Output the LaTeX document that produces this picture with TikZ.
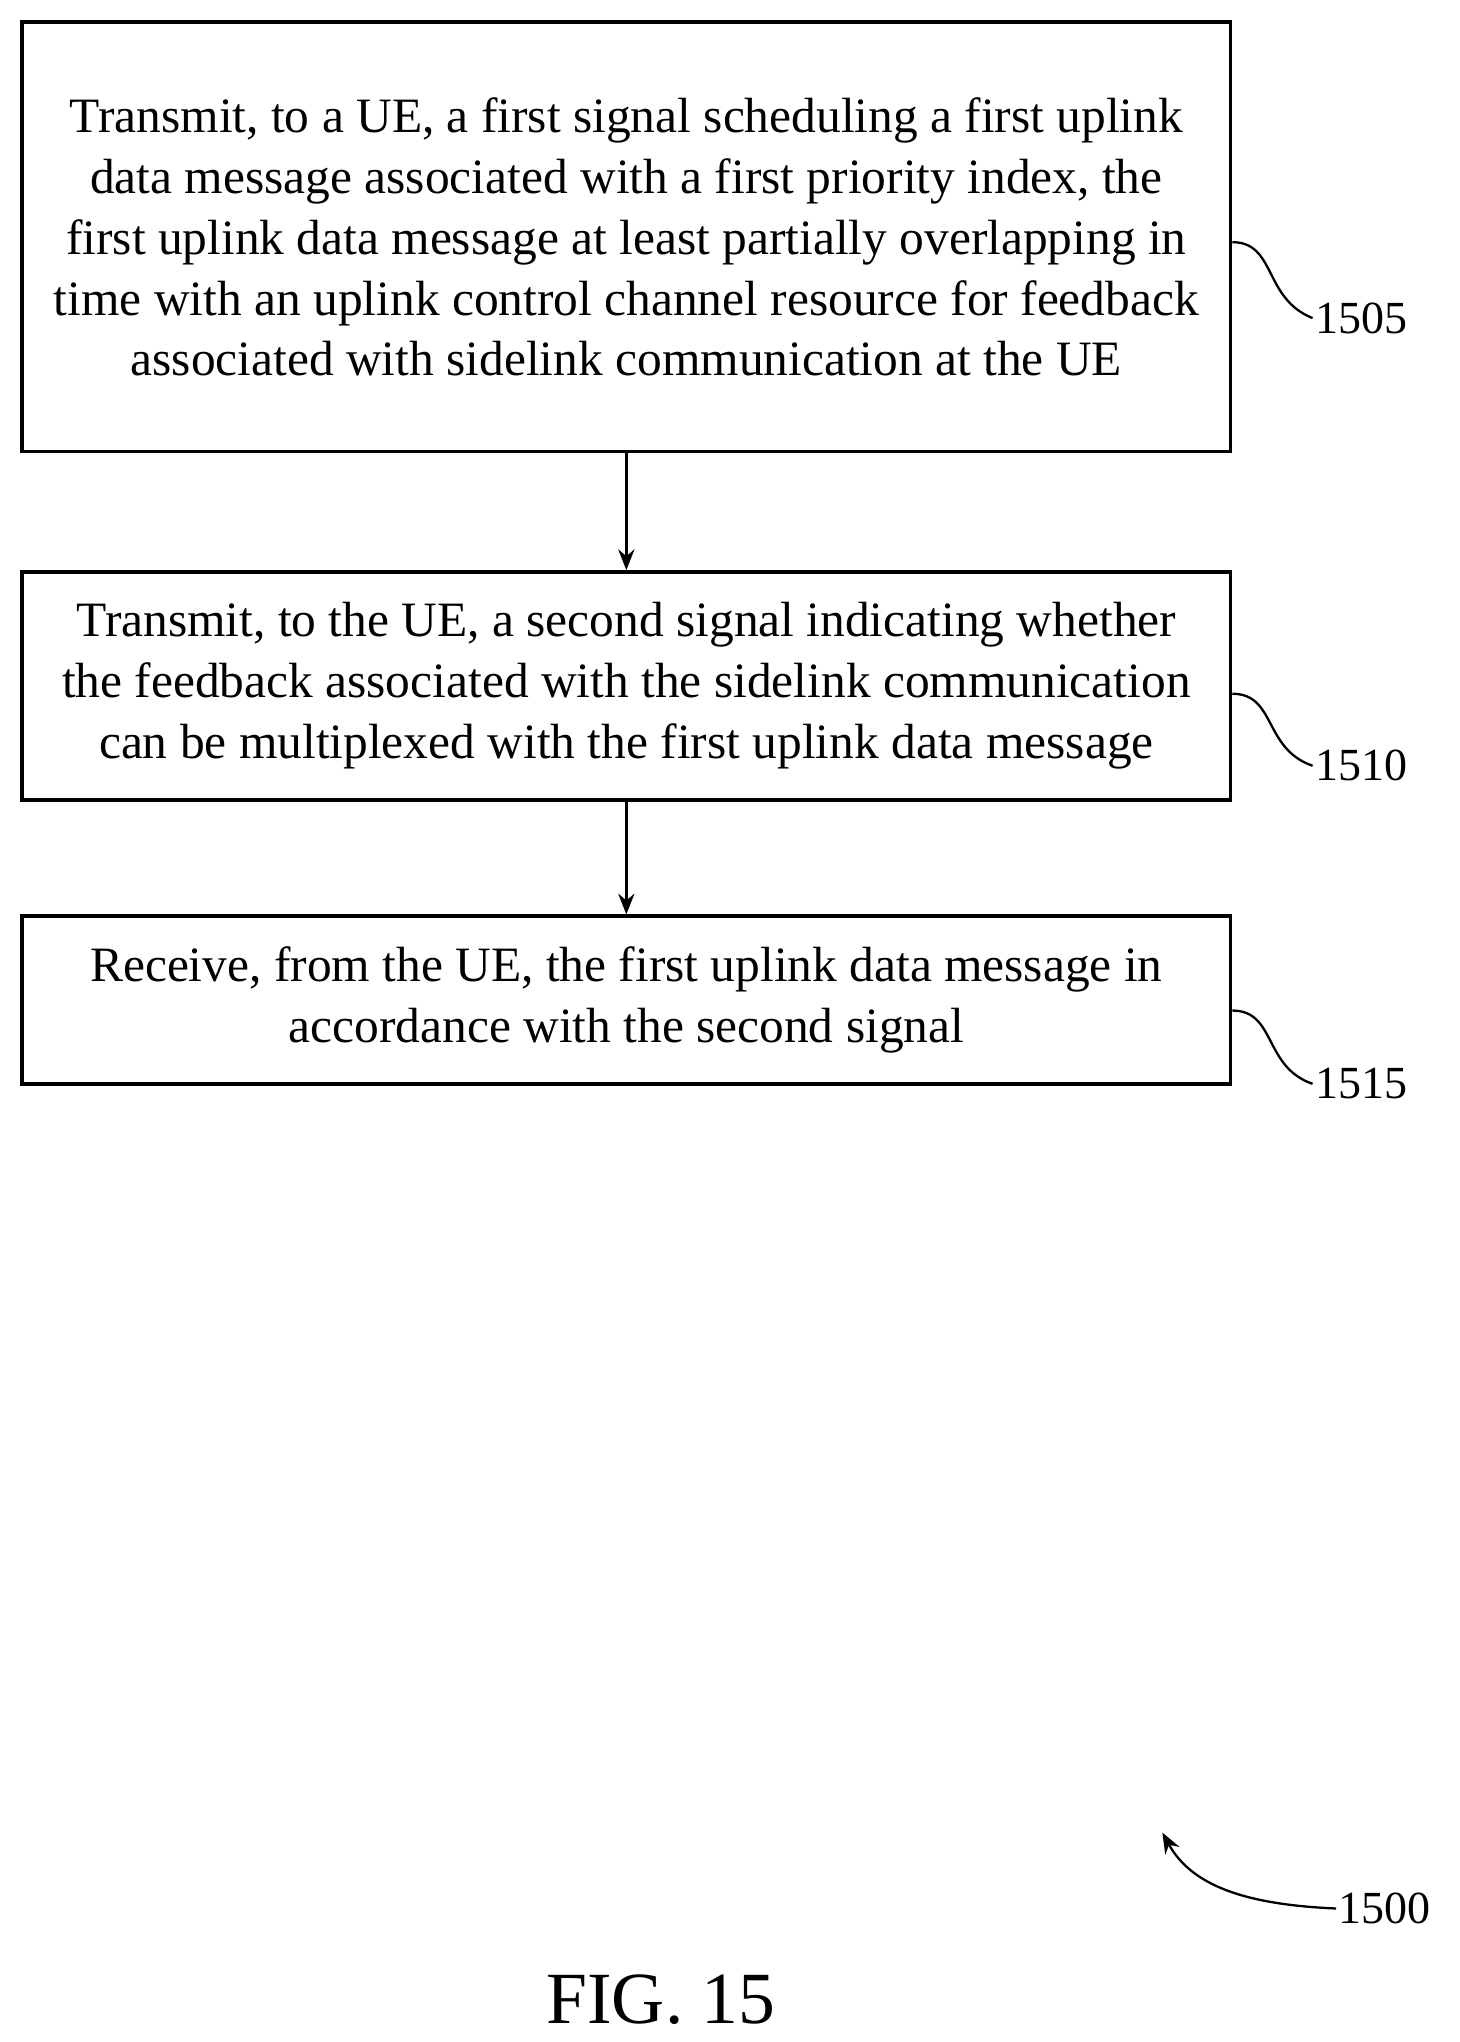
\documentclass[tikz,border=0pt]{standalone}
\usepackage{fontspec}
\setmainfont{Liberation Serif}
\usetikzlibrary{positioning,arrows.meta}
\begin{document}
\begin{tikzpicture}[x=0.02cm, y=-0.02cm]
%styles
\tikzset{stepbox/.style={rectangle, draw, line width=1.6pt, minimum width=923*0.02cm, align=center, inner sep=0pt, font=\fontsize{21.5}{26.5}\selectfont},
  refnum/.style={rectangle, text=black, font=\fontsize{20}{24}\selectfont, inner sep=1pt},
  flow/.style={-{Stealth[length=9pt,width=7pt]}, line width=1.4pt}}
\useasboundingbox (0,0) rectangle (1115,1560);
%boxes
\node[stepbox, minimum height=328*0.02cm] (s1505) at (478.5,181) {Transmit, to a UE, a first signal scheduling a first uplink\\ data message associated with a first priority index, the\\ first uplink data message at least partially overlapping in\\ time with an uplink control channel resource for feedback\\ associated with sidelink communication at the UE};
\node[stepbox, minimum height=174*0.02cm] (s1510) at (478.5,524) {Transmit, to the UE, a second signal indicating whether\\ the feedback associated with the sidelink communication\\ can be multiplexed with the first uplink data message};
\node[stepbox, minimum height=128*0.02cm] (s1515) at (478.5,764) {Receive, from the UE, the first uplink data message in\\ accordance with the second signal};
%arrows
\draw[flow] (s1505) -- (s1510);
\draw[flow] (s1510) -- (s1515);
%labels
\node[refnum] (l1505) at (1040,243) {1505};
\node[refnum] (l1510) at (1040,585) {1510};
\node[refnum] (l1515) at (1040,828) {1515};
\draw[line width=1pt] (s1505.east |- 0,185) .. controls (975,185) and (965,228) .. (l1505.west);
\draw[line width=1pt] (s1510.east |- 0,530) .. controls (975,530) and (965,572) .. (l1510.west);
\draw[line width=1pt] (s1515.east |- 0,772) .. controls (975,772) and (965,815) .. (l1515.west);
%figure number
\node[refnum] (l1500) at (1058,1458) {1500};
\draw[flow, line width=1pt] (l1500.west) .. controls (950,1455) and (910,1440) .. (888,1400);
\node[font=\fontsize{32}{36}\selectfont] (fig) at (505,1528) {FIG. 15};
\end{tikzpicture}
\end{document}
